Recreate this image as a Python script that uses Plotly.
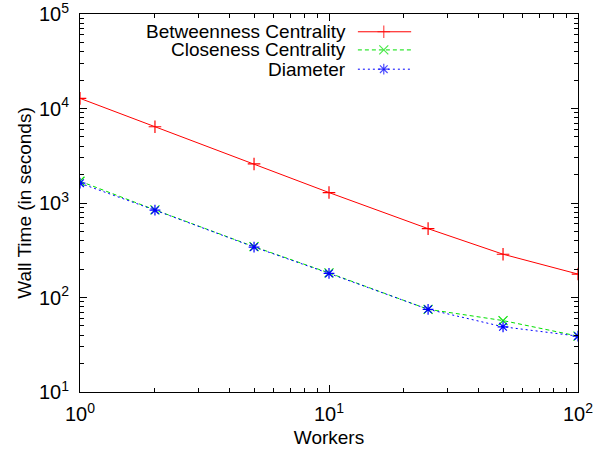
import plotly.graph_objects as go

workers = [1, 2, 5, 10, 25, 50, 100]
betweenness = [12800, 6410, 2590, 1290, 535, 287, 177]
closeness = [1700, 845, 345, 182, 75, 57, 39]
diameter = [1620, 840, 342, 180, 75, 49, 39]

series_names = ["Betweenness Centrality", "Closeness Centrality", "Diameter"]
colors = ["#ff0000", "#00e000", "#0000ff"]
dashes = ["solid", "4px,3px", "2px,3px"]
symbols = ["cross-thin-open", "x-thin-open", "asterisk-open"]

x_tickvals = [1, 10, 100]
x_ticktext = ["10<sup>0</sup>", "10<sup>1</sup>", "10<sup>2</sup>"]
y_tickvals = [10, 100, 1000, 10000, 100000]
y_ticktext = ["10<sup>1</sup>", "10<sup>2</sup>", "10<sup>3</sup>", "10<sup>4</sup>", "10<sup>5</sup>"]
x_minor = [m * 10 ** e for e in range(0, 2) for m in range(2, 10)]
y_minor = [m * 10 ** e for e in range(1, 5) for m in range(2, 10)]

FONT = "Liberation Sans, Arial, Helvetica, sans-serif"

fig = go.Figure()
for name, vals, c, d, s in zip(series_names, [betweenness, closeness, diameter], colors, dashes, symbols):
    fig.add_trace(go.Scatter(
        x=workers, y=vals, mode="lines+markers", name=name,
        line=dict(color=c, width=1, dash=d),
        marker=dict(symbol=s, size=9, color=c, line=dict(color=c, width=1.2)),
        showlegend=False,
    ))

# manual gnuplot-style key (text left, sample right)
key_rows = [0.953, 0.905, 0.854]
for name, c, d, s, ky in zip(series_names, colors, dashes, symbols, key_rows):
    fig.add_trace(go.Scatter(
        x=[0.558, 0.610, 0.665], y=[ky, ky, ky], xaxis="x2", yaxis="y2",
        mode="lines+markers", showlegend=False, hoverinfo="skip",
        line=dict(color=c, width=1, dash=d),
        marker=dict(symbol=s, size=[0, 9, 0], color=c, line=dict(color=c, width=1.2)),
    ))
    fig.add_annotation(x=0.538, y=ky, xref="paper", yref="paper", text=name,
                       showarrow=False, xanchor="right", yanchor="middle",
                       font=dict(family=FONT, size=19, color="#000000"))

axis_common = dict(
    showline=True, linecolor="#000000", linewidth=1, mirror="allticks",
    ticks="inside", ticklen=7, tickcolor="#000000", tickwidth=1,
    showgrid=False, zeroline=False, automargin=False, ticklabeloverflow="allow",
    tickfont=dict(family=FONT, size=20, color="#000000"),
)

fig.update_layout(
    width=611, height=454,
    margin=dict(l=80, r=33, t=14, b=62),
    paper_bgcolor="white", plot_bgcolor="white",
    font=dict(family=FONT, size=19, color="#000000"),
    xaxis=dict(type="log", range=[0, 2], tickvals=x_tickvals, ticktext=x_ticktext,
               title=dict(text="Workers", font=dict(family=FONT, size=19), standoff=6),
               minor=dict(tickvals=x_minor, ticks="inside", ticklen=4, tickcolor="#000000",
                          tickwidth=1, showgrid=False),
               ticklabelstandoff=4,
               **axis_common),
    yaxis=dict(type="log", range=[1, 5], tickvals=y_tickvals, ticktext=y_ticktext,
               title=dict(text="Wall Time (in seconds)", font=dict(family=FONT, size=19), standoff=2),
               minor=dict(tickvals=y_minor, ticks="inside", ticklen=4, tickcolor="#000000",
                          tickwidth=1, showgrid=False),
               ticklabelstandoff=6,
               **axis_common),
    xaxis2=dict(domain=[0, 1], range=[0, 1], overlaying="x", visible=False, anchor="y2"),
    yaxis2=dict(domain=[0, 1], range=[0, 1], overlaying="y", visible=False, anchor="x2"),
)

fig.write_html("out.html", config={"displayModeBar": False},
               post_script="document.body.style.margin='0';document.body.style.overflow='hidden';")
